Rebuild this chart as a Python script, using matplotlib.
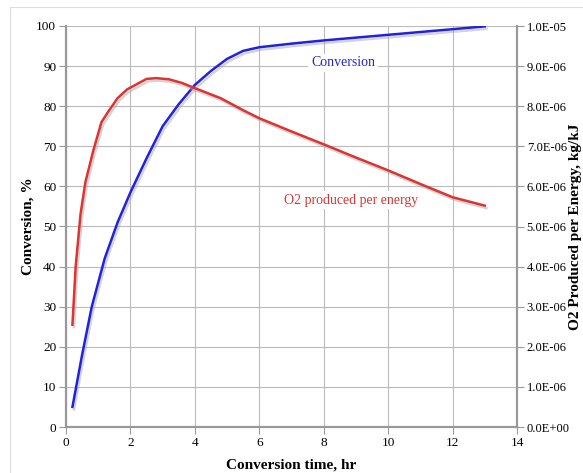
import matplotlib
matplotlib.use("Agg")
import matplotlib.pyplot as plt
import matplotlib.patheffects as pe
from matplotlib.patches import Rectangle

plt.rcParams['font.family'] = ['Liberation Serif', 'DejaVu Serif']

# conversion, % (left axis)
t_conv = [0.2, 0.5, 0.8, 1.2, 1.6, 2.0, 2.5, 3.0, 3.5, 4.0, 4.5, 5.0, 5.5, 6.0, 7.0, 8.0, 9.0, 10.0, 11.0, 12.0, 13.0]
conv = [5, 18, 30, 42, 51, 58.5, 67, 75, 80.5, 85.3, 88.8, 91.8, 93.8, 94.7, 95.6, 96.4, 97.1, 97.8, 98.5, 99.2, 99.9]

# O2 produced per energy, kg/kJ (right axis)
t_o2 = [0.2, 0.3, 0.45, 0.6, 0.85, 1.1, 1.3, 1.6, 1.9, 2.2, 2.5, 2.8, 3.2, 3.6, 4.0, 4.8, 5.5, 6.0, 7.0, 8.0, 9.0, 10.0, 11.0, 12.0, 13.0]
o2 = [2.55e-6, 4.0e-6, 5.3e-6, 6.1e-6, 6.9e-6, 7.6e-6, 7.85e-6, 8.2e-6, 8.42e-6, 8.55e-6, 8.68e-6, 8.7e-6, 8.67e-6, 8.58e-6, 8.45e-6, 8.2e-6, 7.9e-6, 7.7e-6, 7.37e-6, 7.05e-6, 6.72e-6, 6.4e-6, 6.06e-6, 5.73e-6, 5.52e-6]

fig = plt.figure(figsize=(5.83, 4.73), dpi=100)
fig.patches.append(Rectangle((10 / 583, -0.1), 1.2, 1.1 - 7 / 473, transform=fig.transFigure,
                             fill=False, edgecolor='#dddddd', linewidth=0.8))

ax = fig.add_axes([66 / 583, 46 / 473, 451 / 583, 401 / 473])
ax2 = ax.twinx()

shadow = [pe.SimpleLineShadow(offset=(1.2, -1.8), shadow_color='#aaaaaa', alpha=0.5), pe.Normal()]
ax.plot(t_conv, conv, color='#2222dd', lw=1.8, path_effects=shadow, zorder=3)
ax2.plot(t_o2, o2, color='#dd3333', lw=1.8, path_effects=shadow, zorder=3)

ax.set_xlim(0, 14)
ax.set_ylim(0, 100)
ax2.set_ylim(0, 1e-5)
ax.set_xticks(range(0, 15, 2))
ax.set_yticks(range(0, 101, 10))
ax2.set_yticks([i * 1e-6 for i in range(11)])
ax2.set_yticklabels(['0.0E+00'] + ['%.1fE-06' % i for i in range(1, 10)] + ['1.0E-05'])

ax.grid(True, color='#bbbbbb', lw=0.8)
ax.set_axisbelow(True)
for a in (ax, ax2):
    for s in a.spines.values():
        s.set_color('#999999')
        s.set_linewidth(1.5)
    a.tick_params(colors='#999999', labelcolor='black', labelsize=9.5, length=5, width=0.8, pad=2)
ax2.tick_params(labelsize=9)
ax.spines['top'].set_visible(False)
ax2.spines['top'].set_visible(False)

ax.set_xlabel('Conversion time, hr', fontsize=11, fontweight='bold')
ax.set_ylabel('Conversion, %', fontsize=11, fontweight='bold')
ax2.set_ylabel('O2 Produced per Energy, kg/kJ', fontsize=11, fontweight='bold')
ax.xaxis.set_label_coords(0.5, -0.078)
ax.yaxis.set_label_coords(-0.07, 0.5)
ax2.yaxis.set_label_coords(1.116, 0.5)

ax.text(8.6, 90.8, 'Conversion', color='#2222dd', fontsize=10, ha='center', va='center',
        bbox=dict(facecolor='white', edgecolor='none', pad=2), zorder=4)
ax.text(8.85, 56.6, 'O2 produced per energy', color='#dd3333', fontsize=10, ha='center', va='center',
        bbox=dict(facecolor='white', edgecolor='none', pad=2), zorder=4)

fig.savefig('out.png', dpi=100)
